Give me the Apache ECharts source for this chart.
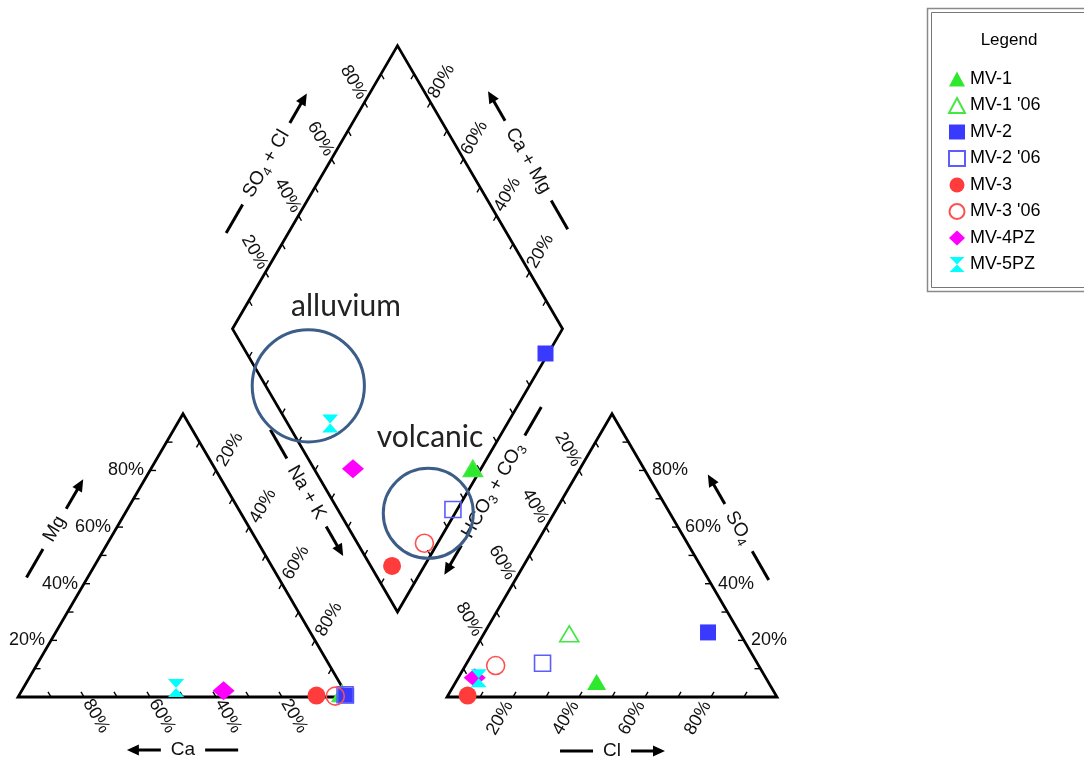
<!DOCTYPE html>
<html>
<head>
<meta charset="utf-8">
<title>Piper diagram - MV wells</title>
<script src="https://cdn.jsdelivr.net/npm/echarts@6.0.0/dist/echarts.min.js"></script>
<style>
  html, body { margin: 0; padding: 0; background: #fff; }
  #chart { width: 1084px; height: 763px; }
</style>
</head>
<body>
<div id="chart"></div>
<script>
// ---- Major-ion composition of each sample (% of meq/L) ----
const samples = ['MV-1', "MV-1 '06", 'MV-2', "MV-2 '06", 'MV-3', "MV-3 '06", 'MV-4PZ', 'MV-5PZ'];
// cations
const caPct   = [1.5, 1.2, 0.3, 0.5, 9.3, 3.7, 36.6, 50.5];
const mgPct   = [1.0, 1.3, 0.5, 0.8, 0.5, 0.3, 2.2, 3.2];
const naKPct  = [97.5, 97.5, 99.2, 98.7, 90.2, 96.0, 61.2, 46.3];
// anions
const hco3Pct = [52.0, 51.8, 9.5, 65.1, 93.5, 79.7, 88.2, 87.1];
const so4Pct  = [5.3, 22.3, 22.8, 11.9, 0.5, 11.1, 6.8, 6.6];
const clPct   = [42.7, 25.9, 67.7, 23.0, 6.0, 9.2, 5.0, 6.3];
// labelled percentages on the scales
const tickValues = [20, 40, 60, 80];
const tickLabels = ['20%', '40%', '60%', '80%'];

// ---- Marker styles per sample ----
const HOURGLASS = 'path://M0,0L10,0L5,5L10,10L0,10L5,5Z';
const markerSymbols = ['triangle', 'triangle', 'rect', 'rect', 'circle', 'circle', 'diamond', HOURGLASS];
const markerColors  = ['#2ee82e', '#44e844', '#3a3aff', '#5c5cff', '#ff3c3c', '#ff5050', '#ff00ff', '#00ffff'];
const markerHollow  = [false, true, false, true, false, true, false, false];
const markerSizes   = [[19, 16], [19, 16], 16, 16, 18, 18, [22, 19], [16, 18]];

const FONT = '"Liberation Sans", Arial, sans-serif';

// ---- Piper geometry in data units (triangle side = 100) ----
const SIDE = 100, GAP = 30, H = Math.sqrt(3) / 2;
const X_PX = 3.3, Y_PX = 3.27;        // pixels per data unit
const ORIGIN_PX = [18, 697];          // Ca corner of the cation triangle
const CHART_W = 1084, CHART_H = 763;
const xMin = -ORIGIN_PX[0] / X_PX, xMax = xMin + CHART_W / X_PX;
const yMin = -(CHART_H - ORIGIN_PX[1]) / Y_PX, yMax = yMin + CHART_H / Y_PX;

// cation triangle corners
const A = [0, 0], N = [SIDE, 0], M = [SIDE / 2, SIDE * H];
// anion triangle corners
const C = [SIDE + GAP, 0], Q = [2 * SIDE + GAP, 0], S = [SIDE + GAP + SIDE / 2, SIDE * H];
// diamond corners
const B = [SIDE + GAP / 2, GAP * H];
const DL = [B[0] - SIDE / 2, B[1] + SIDE * H];
const DR = [B[0] + SIDE / 2, B[1] + SIDE * H];
const DT = [B[0], B[1] + 2 * SIDE * H];

function cationPoint(ca, mg, na) {
  const t = ca + mg + na;
  return [(na + mg / 2) / t * SIDE, mg / t * SIDE * H];
}
function anionPoint(hco3, so4, cl) {
  const t = hco3 + so4 + cl;
  return [C[0] + (cl + so4 / 2) / t * SIDE, so4 / t * SIDE * H];
}
function diamondPoint(na, sc) {
  return [DL[0] + (na + sc) / 100 * SIDE / 2, DL[1] + (sc - na) / 100 * SIDE * H];
}

// ---- Scales along each edge: value 0 at `from`, 100 at `to`; ticks point inward (screen px) ----
const TICK_LEN = 6;
const scaleEdges = [
  { from: N, to: A, tick: [-0.5, -H], label: { off: [12, 19], rot: -60 } },               // Ca
  { from: A, to: M, tick: [1, 0], label: { off: [-6, 0], rot: 0, align: 'right' } },      // Mg
  { from: M, to: N, tick: [-0.5, H], label: { off: [14, -21], rot: 60 } },                // Na + K
  { from: S, to: C, tick: [0.5, H], label: { off: [-11, -21], rot: -60 } },               // HCO3 + CO3
  { from: C, to: Q, tick: [0.5, -H], label: { off: [-13, 21], rot: 60 } },                // Cl
  { from: Q, to: S, tick: [-1, 0], label: { off: [7, 0], rot: 0, align: 'left' } },       // SO4
  { from: DL, to: DT, tick: [0.5, H], label: { off: [-11, -20], rot: -60 } },             // SO4 + Cl
  { from: DR, to: DT, tick: [-0.5, H], label: { off: [11, -21], rot: 60 } },              // Ca + Mg
  { from: DL, to: B, tick: [0.5, -H] },                                                   // Na + K (diamond)
  { from: DR, to: B, tick: [-0.5, -H] }                                                   // HCO3 + CO3 (diamond)
];

// Axis titles: parts flagged 1 are subscripts; dir points toward increasing values
const axisTitles = [
  { parts: [['Mg']], edge: [A, M], out: [-H, -0.5], dist: 53, shift: 0, dir: [0.5, -H] },
  { parts: [['Ca']], edge: [N, A], out: [0, 1], dist: 53, shift: 0, dir: [-1, 0] },
  { parts: [['Na + K']], edge: [M, N], out: [H, -0.5], dist: 67, shift: -34, dir: [0.5, H] },
  { parts: [['HCO'], ['3', 1], [' + CO'], ['3', 1]], edge: [S, C], out: [-H, -0.5], dist: 64, shift: -38, dir: [-0.5, H] },
  { parts: [['Cl']], edge: [C, Q], out: [0, 1], dist: 54, shift: 0, dir: [1, 0] },
  { parts: [['SO'], ['4', 1]], edge: [Q, S], out: [H, -0.5], dist: 52, shift: 2, dir: [-0.5, -H] },
  { parts: [['SO'], ['4', 1], [' + Cl']], edge: [DL, DT], out: [-H, -0.5], dist: 54, shift: -4, dir: [0.5, -H] },
  { parts: [['Ca + Mg']], edge: [DR, DT], out: [H, -0.5], dist: 55, shift: -1, dir: [-0.5, -H] }
];
const TITLE_SIZE = 19, SUB_SIZE = 13;

// Field annotations (data units)
const fields = [
  { name: 'alluvium', center: [87.97, 95.17], r: 17.0, text: [99.4, 119.6] },
  { name: 'volcanic', center: [124.33, 56.18], r: 13.64, text: [124.85, 79.5] }
];

const measureCtx = document.createElement('canvas').getContext('2d');
function textWidth(str, size) {
  measureCtx.font = size + 'px ' + FONT;
  return measureCtx.measureText(str).width;
}

function renderFrame(params, api) {
  const px = p => api.coord(p);
  const add = (a, v, k) => [a[0] + v[0] * k, a[1] + v[1] * k];
  const lerp = (a, b, t) => [a[0] + (b[0] - a[0]) * t, a[1] + (b[1] - a[1]) * t];
  const ink = '#000';
  const kids = [];

  // outlines
  [[A, N, M], [C, Q, S], [B, DR, DT, DL]].forEach(poly => {
    kids.push({ type: 'polygon', shape: { points: poly.map(px) },
      style: { fill: 'none', stroke: ink, lineWidth: 2.8, lineJoin: 'miter' } });
  });

  // ticks and tick labels
  scaleEdges.forEach(ax => {
    for (let v = 10; v < 100; v += 10) {
      const p = px(lerp(ax.from, ax.to, v / 100));
      const q = add(p, ax.tick, TICK_LEN);
      kids.push({ type: 'line', shape: { x1: p[0], y1: p[1], x2: q[0], y2: q[1] },
        style: { stroke: ink, lineWidth: 1.4 } });
    }
    if (!ax.label) return;
    tickValues.forEach((v, i) => {
      const p = px(lerp(ax.from, ax.to, v / 100));
      kids.push({ type: 'text', x: p[0] + ax.label.off[0], y: p[1] + ax.label.off[1],
        rotation: ax.label.rot * Math.PI / 180,
        style: { text: tickLabels[i], fontSize: 18, fontFamily: FONT, fill: '#111',
          align: ax.label.align || 'center', verticalAlign: 'middle' } });
    });
  });

  // axis titles with leading dash and direction arrow
  axisTitles.forEach(t => {
    const mid = px(lerp(t.edge[0], t.edge[1], 0.5));
    const c = add(add(mid, t.out, t.dist), t.dir, t.shift);
    const read = t.dir[0] < -1e-6 ? [-t.dir[0], -t.dir[1]] : t.dir;
    const rot = Math.atan2(-read[1], read[0]);
    let w = 0;
    const rich = t.parts.map(([s, sub]) => {
      w += textWidth(s, sub ? SUB_SIZE : TITLE_SIZE);
      return '{' + (sub ? 's' : 'n') + '|' + s + '}';
    }).join('');
    kids.push({ type: 'text', x: c[0], y: c[1], rotation: rot,
      style: { text: rich, align: 'center', verticalAlign: 'middle',
        rich: {
          n: { fontSize: TITLE_SIZE, fontFamily: FONT, fill: '#111', lineHeight: 24 },
          s: { fontSize: SUB_SIZE, fontFamily: FONT, fill: '#111', lineHeight: 13, verticalAlign: 'bottom' }
        } } });
    const g = w / 2 + 10, L = 34, headLen = 12, headHalf = 5.5;
    const d0 = add(c, t.dir, -(g + 33)), d1 = add(c, t.dir, -g);
    kids.push({ type: 'line', shape: { x1: d0[0], y1: d0[1], x2: d1[0], y2: d1[1] },
      style: { stroke: ink, lineWidth: 3 } });
    const a0 = add(c, t.dir, g), tip = add(c, t.dir, g + L), hb = add(tip, t.dir, -headLen);
    kids.push({ type: 'line', shape: { x1: a0[0], y1: a0[1], x2: hb[0] + t.dir[0], y2: hb[1] + t.dir[1] },
      style: { stroke: ink, lineWidth: 3 } });
    const nrm = [-t.dir[1], t.dir[0]];
    kids.push({ type: 'polygon',
      shape: { points: [tip, add(hb, nrm, headHalf), add(hb, nrm, -headHalf)] },
      style: { fill: ink, stroke: null } });
  });

  // hydrogeologic field circles and names
  fields.forEach(f => {
    const c = px(f.center);
    const r = api.size([f.r, 0])[0];
    kids.push({ type: 'circle', shape: { cx: c[0], cy: c[1], r: r },
      style: { fill: 'none', stroke: '#3c5d88', lineWidth: 3 } });
    const tp = px(f.text);
    kids.push({ type: 'text', x: tp[0], y: tp[1],
      style: { text: f.name, fontSize: 30, fontFamily: 'Lato, "Open Sans", sans-serif', fill: '#222',
        align: 'center', verticalAlign: 'middle' } });
  });

  return { type: 'group', children: kids };
}

const sampleSeries = samples.map((name, i) => ({
  type: 'scatter',
  name: name,
  z: 5 + i,
  symbol: markerSymbols[i],
  symbolSize: markerSizes[i],
  itemStyle: markerHollow[i]
    ? { color: 'rgba(255,255,255,0)', borderColor: markerColors[i], borderWidth: 1.6, opacity: 1 }
    : { color: markerColors[i], opacity: 1 },
  emphasis: { disabled: true },
  data: [
    cationPoint(caPct[i], mgPct[i], naKPct[i]),
    anionPoint(hco3Pct[i], so4Pct[i], clPct[i]),
    diamondPoint(naKPct[i] / (caPct[i] + mgPct[i] + naKPct[i]) * 100,
                 (so4Pct[i] + clPct[i]) / (hco3Pct[i] + so4Pct[i] + clPct[i]) * 100)
  ]
}));

const chart = echarts.init(document.getElementById('chart'));
chart.setOption({
  animation: false,
  backgroundColor: '#fff',
  grid: { left: 0, right: 0, top: 0, bottom: 0 },
  xAxis: { type: 'value', min: xMin, max: xMax, show: false },
  yAxis: { type: 'value', min: yMin, max: yMax, show: false },
  tooltip: { show: false },
  legend: {
    data: samples,
    orient: 'vertical',
    left: 948, top: 70,
    itemWidth: 16, itemHeight: 15, itemGap: 8.5,
    padding: 0,
    selectedMode: false,
    textStyle: { fontSize: 18, fontFamily: FONT, color: '#000', lineHeight: 18 }
  },
  graphic: [
    { type: 'rect', shape: { x: 927.5, y: 8.5, width: 200, height: 283 },
      style: { fill: 'none', stroke: '#8a8a8a', lineWidth: 1.5 } },
    { type: 'rect', shape: { x: 931.5, y: 12.5, width: 200, height: 275 },
      style: { fill: 'none', stroke: '#777', lineWidth: 1 } },
    { type: 'text', x: 1009, y: 40,
      style: { text: 'Legend', fontSize: 17, fontFamily: FONT, fill: '#000', align: 'center', verticalAlign: 'middle' } }
  ],
  series: [
    { type: 'custom', name: 'frame', z: 1, silent: true, renderItem: renderFrame, data: [[0, 0]] }
  ].concat(sampleSeries)
});
</script>
</body>
</html>
